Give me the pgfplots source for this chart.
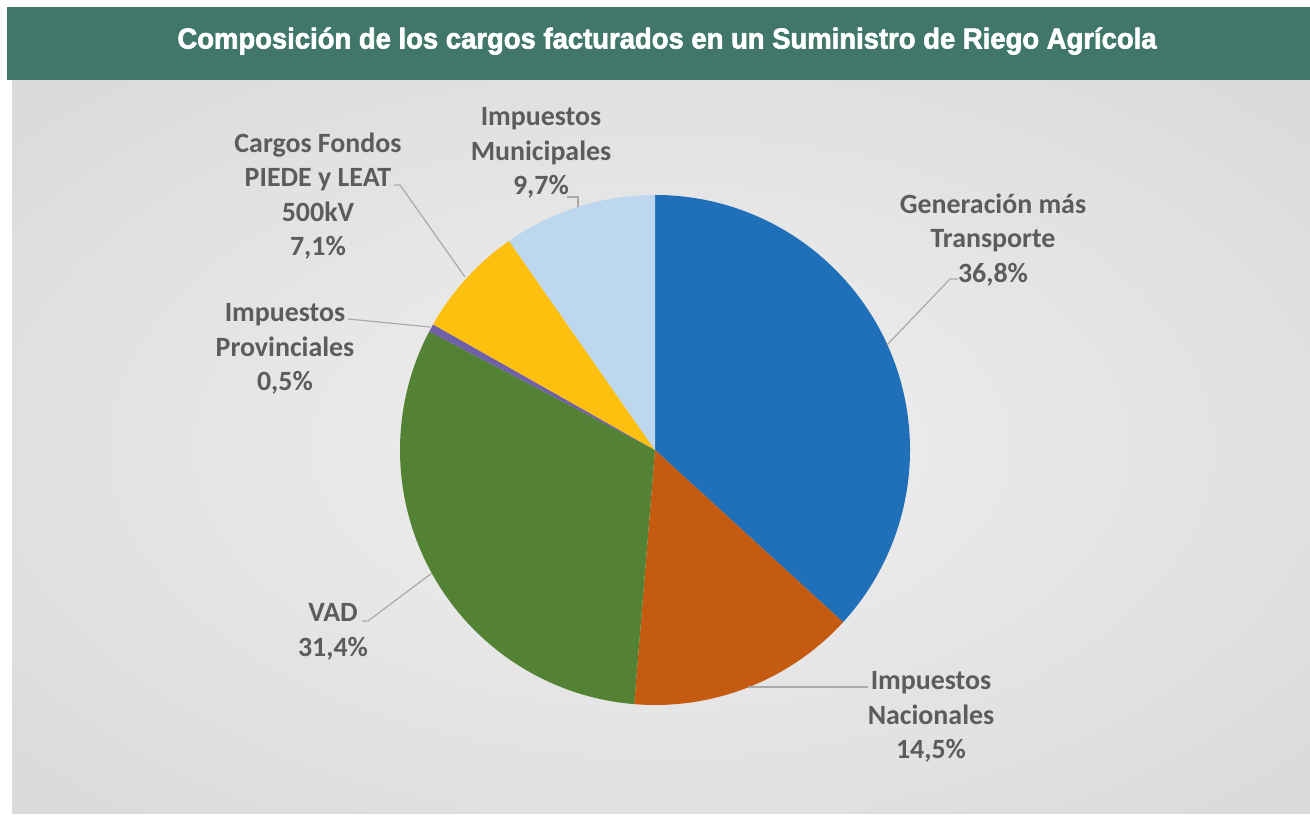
\documentclass[border=0pt]{standalone}
\usepackage{pgfplots}
\pgfplotsset{compat=1.18}
\usepackage{pgfplotstable}
\usepackage{fontspec}
\setmainfont{Carlito}
\newfontfamily\titlefont[FakeBold=2.2,FakeStretch=0.95]{Liberation Sans Bold}
\definecolor{cBlue}{RGB}{31,112,185}
\definecolor{cOrange}{RGB}{197,90,17}
\definecolor{cGreen}{RGB}{84,130,53}
\definecolor{cPurple}{RGB}{112,96,168}
\definecolor{cYellow}{RGB}{254,192,15}
\definecolor{cLBlue}{RGB}{189,215,238}
\definecolor{titlebg}{RGB}{64,119,106}
\definecolor{lblgray}{RGB}{92,92,92}
\definecolor{leader}{RGB}{170,170,170}
\definecolor{bgc}{RGB}{240,240,240}
\definecolor{bgm}{RGB}{226,226,226}
\definecolor{bge}{RGB}{208,208,208}
\definecolor{bgo}{RGB}{194,194,194}
\pgfdeclareradialshading{bgshade}{\pgfpoint{0bp}{0bp}}{color(0bp)=(bgc); color(22bp)=(bgm); color(50bp)=(bge); color(72bp)=(bgo)}

\pgfplotstableread[col sep=comma]{
label,value,color
Generacion,36.8,cBlue
Nacionales,14.5,cOrange
VAD,31.4,cGreen
Provinciales,0.5,cPurple
Fondos,7.1,cYellow
Municipales,9.7,cLBlue
}\piedata

\begin{document}
\begin{tikzpicture}
\begin{axis}[x=0.5bp, y=0.5bp, xmin=0, xmax=1310, ymin=0, ymax=814,
  hide axis, clip=false]
\pgfplotsextra{
  \fill[white] (axis cs:0,0) rectangle (axis cs:1310,814);
  \shade[shading=bgshade] (axis cs:12,1) rectangle (axis cs:1310,734);
  \fill[titlebg] (axis cs:7,734) rectangle (axis cs:1310,807);
  \node[text=white, font=\titlefont\fontsize{14.5}{16}\selectfont] at (axis cs:667,773) {Composición de los cargos facturados en un Suministro de Riego Agrícola};
  \gdef\cum{90}
  \foreach \i in {0,...,5} {
    \pgfplotstablegetelem{\i}{value}\of\piedata \let\v\pgfplotsretval
    \pgfplotstablegetelem{\i}{color}\of\piedata \let\c\pgfplotsretval
    \pgfmathsetmacro\a{\cum}
    \pgfmathsetmacro\b{\cum-3.6*\v}
    \fill[\c] (axis cs:655,364) -- ++(\a:127.5bp) arc[start angle=\a, end angle=\b, radius=127.5bp] -- cycle;
    \xdef\cum{\b}
  }
  \begin{scope}[leader, line width=0.6bp]
    \draw (axis cs:887,469) -- (axis cs:950,535) -- (axis cs:958,535);
    \draw (axis cs:748,127) -- (axis cs:868,127);
    \draw (axis cs:432,241) -- (axis cs:368,193) -- (axis cs:362,193);
    \draw (axis cs:430,487) -- (axis cs:348,495);
    \draw (axis cs:465,537) -- (axis cs:400,629) -- (axis cs:394,629);
    \draw (axis cs:578,607) -- (axis cs:578,617) -- (axis cs:567,617);
  \end{scope}
  \begin{scope}[every node/.style={text=lblgray, align=center, inner sep=0pt, font=\bfseries\fontsize{14}{17.25}\selectfont}]
    \node at (axis cs:993,574) {Generación más\\Transporte\\36,8\%};
    \node at (axis cs:931,97) {Impuestos\\Nacionales\\14,5\%};
    \node at (axis cs:333,182) {VAD\\31,4\%};
    \node at (axis cs:285,465) {Impuestos\\Provinciales\\0,5\%};
    \node at (axis cs:318,618) {Cargos Fondos\\PIEDE y LEAT\\500kV\\7,1\%};
    \node at (axis cs:541,661) {Impuestos\\Municipales\\9,7\%};
  \end{scope}
}
\end{axis}
\end{tikzpicture}
\end{document}
